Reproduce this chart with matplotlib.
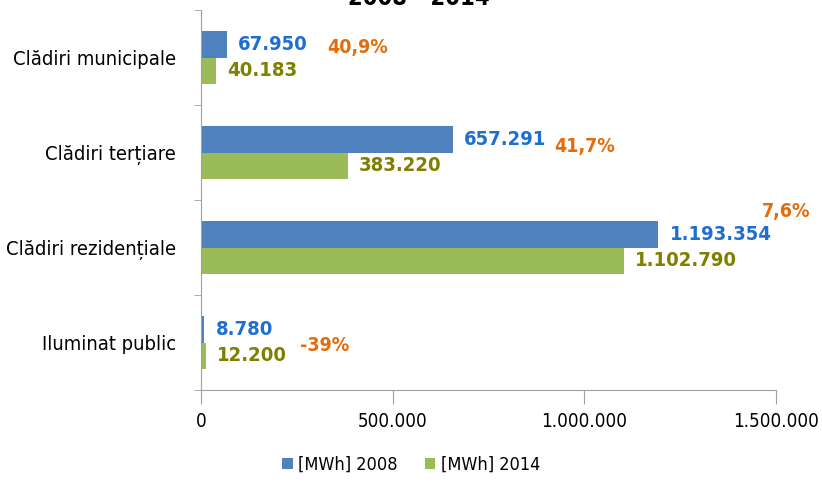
import numpy as np
import matplotlib.pyplot as plt

categories = ["Clădiri municipale", "Clădiri terțiare", "Clădiri rezidențiale", "Iluminat public"]
mwh_2008 = [67950, 657291, 1193354, 8780]
mwh_2014 = [40183, 383220, 1102790, 12200]
labels_2008 = ["67.950", "657.291", "1.193.354", "8.780"]
labels_2014 = ["40.183", "383.220", "1.102.790", "12.200"]
change_labels = ["40,9%", "41,7%", "7,6%", "-39%"]
change_pos = [(328000, -0.11), (922000, 0.94), (1463000, 1.62), (258000, 3.03)]
xticks = [0, 500000, 1000000, 1500000]
xticklabels = ["0", "500.000", "1.000.000", "1.500.000"]

plt.rcParams['font.family'] = ['DejaVu Sans']
plt.rcParams['font.stretch'] = 'condensed'

fig = plt.figure(figsize=(8.22, 4.83), dpi=100)
ax = fig.add_axes([0.2445, 0.1925, 0.6995, 0.7865])

y = np.arange(len(categories))
h = 0.28
ax.barh(y - h / 2, mwh_2008, height=h, color='#4F81BD', label='[MWh] 2008')
ax.barh(y + h / 2, mwh_2014, height=h, color='#9BBB59', label='[MWh] 2014')

for i in range(len(categories)):
    ax.annotate(labels_2008[i], (mwh_2008[i], y[i] - h / 2), xytext=(8, 0),
                textcoords='offset points', va='center', ha='left',
                fontsize=14.5, fontweight='bold', color='#1F6FD0')
    ax.annotate(labels_2014[i], (mwh_2014[i], y[i] + h / 2), xytext=(8, 0),
                textcoords='offset points', va='center', ha='left',
                fontsize=14.5, fontweight='bold', color='#7F7F00')
    ax.text(change_pos[i][0], change_pos[i][1], change_labels[i], va='center', ha='left',
            fontsize=14, fontweight='bold', color='#E46C0A', clip_on=False)

ax.set_xlim(0, 1500000)
ax.set_ylim(3.5, -0.5)
ax.set_xticks(xticks)
ax.set_xticklabels(xticklabels, fontsize=13.5)
ax.set_yticks(y)
ax.set_yticklabels(categories, fontsize=14.5)
ax.set_yticks([-0.5, 0.5, 1.5, 2.5, 3.5], minor=True)
ax.tick_params(axis='y', which='major', length=0, pad=18)
ax.tick_params(axis='y', which='minor', length=5, color='#A0A0A0')
ax.tick_params(axis='x', length=10, color='#A0A0A0', pad=6)

for s in ['top', 'right']:
    ax.spines[s].set_visible(False)
for s in ['left', 'bottom']:
    ax.spines[s].set_color('#A0A0A0')

fig.text(0.51, 0.99, "2008 - 2014", ha='center', va='baseline',
         fontsize=17, fontweight='bold')

fig.legend(loc='lower center', bbox_to_anchor=(0.5, -0.015), ncol=2, frameon=False,
           fontsize=13, handlelength=0.6, handleheight=0.6, handletextpad=0.3,
           columnspacing=1.5)

fig.savefig("out.png", dpi=100)
